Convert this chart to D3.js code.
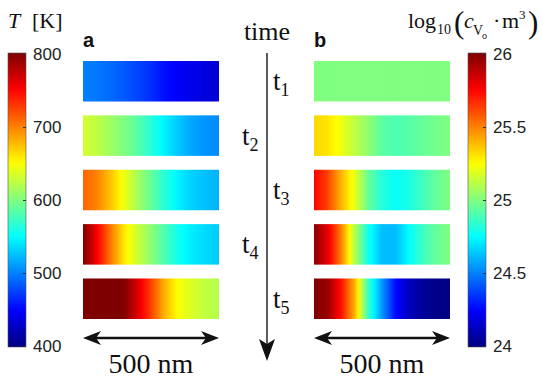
<!DOCTYPE html>
<meta charset="utf-8">
<style>
body { margin: 0; background: #fff; }
.serif { font-family: "Liberation Serif", "Times New Roman", serif; fill: #111; }
.sans { font-family: "Liberation Sans", Arial, sans-serif; fill: #111; }
.cbar .tick text { font: 17px "Liberation Sans", Arial, sans-serif; fill: #222; }
.cbar .tick line { stroke: #333; }
.cbar .domain { display: none; }
</style>
<svg id="fig"></svg>
<script src="https://d3js.org/d3.v7.min.js"></script>
<script>

// snapshots t1..t5, values sampled every tenth of the 500 nm width
var times = ["1", "2", "3", "4", "5"];
var xs = [0, .1, .2, .3, .4, .5, .6, .7, .8, .9, 1];

// temperature [K]
var tempT1 = [500, 497, 492, 485, 477, 468, 455, 448, 442, 437, 433];
var tempT2 = [632, 625, 612, 600, 585, 565, 545, 528, 515, 508, 505];
var tempT3 = [710, 700, 675, 645, 615, 590, 565, 545, 532, 525, 520];
var tempT4 = [800, 755, 705, 660, 630, 605, 580, 555, 543, 535, 530];
var tempT5 = [800, 800, 800, 800, 765, 725, 680, 648, 635, 625, 620];

// log10 vacancy concentration
var concT1 = [25, 25, 25, 25, 25, 25, 25, 25, 25, 25, 25];
var concT2 = [25.33, 25.3, 25.22, 25.12, 25.03, 24.93, 24.9, 24.92, 24.95, 24.98, 25.0];
var concT3 = [25.75, 25.62, 25.4, 25.2, 24.95, 24.82, 24.76, 24.8, 24.88, 24.95, 25.0];
var concT4 = [25.98, 25.8, 25.5, 25.1, 24.78, 24.62, 24.62, 24.75, 24.87, 24.95, 25.0];
var concT5 = [26, 25.95, 25.72, 25.4, 24.85, 24.55, 24.27, 24.12, 24.05, 24.02, 24.0];

var tempTicks = [400, 500, 600, 700, 800];
var concTicks = [24, 24.5, 25, 25.5, 26];

var tempRows = [tempT1, tempT2, tempT3, tempT4, tempT5];
var concRows = [concT1, concT2, concT3, concT4, concT5];

var width = 542, height = 380;

var svg = d3.select("#fig")
    .attr("width", width)
    .attr("height", height);

var defs = svg.append("defs");

// matlab jet
var jet = d3.scaleLinear()
    .domain([0, .125, .375, .625, .875, 1])
    .range(["#00007f", "#0000ff", "#00ffff", "#ffff00", "#ff0000", "#7f0000"])
    .clamp(true);

var tempColor = function(v) { return jet((v - 400) / 400); };
var concColor = function(v) { return jet((v - 24) / 2); };

var y = d3.scaleBand().domain(times).range([61, 319]).paddingInner(0.255);

function drawPanel(id, x0, x1, rows, color) {
  var x = d3.scaleLinear().domain([0, 1]).range([x0, x1]);
  var g = svg.append("g");
  rows.forEach(function(vals, i) {
    var prof = d3.scaleLinear().domain(xs).range(vals);
    var grad = defs.append("linearGradient")
        .attr("id", id + i)
        .attr("gradientUnits", "userSpaceOnUse")
        .attr("x1", x(0)).attr("x2", x(1))
        .attr("y1", 0).attr("y2", 0);
    grad.selectAll("stop")
        .data(d3.range(0, 1.0001, 0.02))
      .enter().append("stop")
        .attr("offset", function(d) { return d; })
        .attr("stop-color", function(d) { return color(prof(d)); });
    g.append("rect")
        .attr("x", x(0))
        .attr("y", y(times[i]))
        .attr("width", x(1) - x(0))
        .attr("height", y.bandwidth())
        .attr("fill", "url(#" + id + i + ")");
  });
  return x;
}

var xa = drawPanel("ga", 83, 219, tempRows, tempColor);
var xb = drawPanel("gb", 314, 450, concRows, concColor);

// colorbars
function colorbar(id, x0, domain, ticks, color, fmt) {
  var yc = d3.scaleLinear().domain(domain).range([346, 54]);
  var grad = defs.append("linearGradient")
      .attr("id", id)
      .attr("x1", 0).attr("x2", 0).attr("y1", 1).attr("y2", 0);
  grad.selectAll("stop")
      .data(d3.range(0, 1.0001, 0.02))
    .enter().append("stop")
      .attr("offset", function(d) { return d; })
      .attr("stop-color", function(d) { return jet(d); });
  svg.append("rect")
      .attr("x", x0).attr("y", yc(domain[1]) - 1)
      .attr("width", 18).attr("height", yc(domain[0]) - yc(domain[1]) + 2)
      .attr("fill", "url(#" + id + ")")
      .attr("stroke", "#555").attr("stroke-width", 0.6);
  svg.append("g")
      .attr("class", "cbar")
      .attr("transform", "translate(" + (x0 + 18) + ",0)")
      .call(d3.axisRight(yc).tickValues(ticks).tickSize(-3).tickPadding(7).tickFormat(fmt));
}

colorbar("cbT", 8, [400, 800], tempTicks, tempColor, d3.format("d"));
colorbar("cbC", 468, [24, 26], concTicks, concColor, function(d) { return String(d); });

// titles
var tT = svg.append("text").attr("class", "serif").attr("y", 28).style("font-size", "22px");
tT.append("tspan").attr("x", 8).style("font-style", "italic").text("T");
tT.append("tspan").attr("x", 32).text("[K]");

svg.append("text").attr("class", "serif").attr("x", 408).attr("y", 28).style("font-size", "22px").text("log");
svg.append("text").attr("class", "serif").attr("x", 437).attr("y", 34).style("font-size", "14px").text("10");
svg.append("text").attr("class", "serif").attr("x", 454).attr("y", 33).style("font-size", "31px").text("(");
svg.append("text").attr("class", "serif").attr("x", 464).attr("y", 28).style("font-size", "22px").style("font-style", "italic").text("c");
svg.append("text").attr("class", "serif").attr("x", 473).attr("y", 35).style("font-size", "14px").text("V");
svg.append("text").attr("class", "serif").attr("x", 482).attr("y", 39).style("font-size", "10px").text("o");
svg.append("text").attr("class", "serif").attr("x", 493).attr("y", 28).style("font-size", "22px").text("·");
svg.append("text").attr("class", "serif").attr("x", 502).attr("y", 28).style("font-size", "22px").text("m");
svg.append("text").attr("class", "serif").attr("x", 519).attr("y", 19).style("font-size", "13px").text("3");
svg.append("text").attr("class", "serif").attr("x", 528).attr("y", 33).style("font-size", "31px").text(")");

// panel letters
svg.append("text").attr("class", "sans").attr("x", xa(0)).attr("y", 47)
    .style("font-size", "20px").style("font-weight", "bold").text("a");
svg.append("text").attr("class", "sans").attr("x", xb(0)).attr("y", 47)
    .style("font-size", "20px").style("font-weight", "bold").text("b");

// time arrow
var ax = 267;
svg.append("text").attr("class", "serif").attr("x", ax).attr("y", 40)
    .attr("text-anchor", "middle").style("font-size", "26px").text("time");
svg.append("line")
    .attr("x1", ax).attr("x2", ax).attr("y1", 53).attr("y2", 346)
    .attr("stroke", "#333").attr("stroke-width", 1.6);
svg.append("path")
    .attr("d", "M" + ax + ",361L" + (ax - 8) + ",339L" + ax + ",344L" + (ax + 8) + ",339Z")
    .attr("fill", "#111");

times.forEach(function(t, i) {
  var lx = i % 2 === 0 ? 273 : 242;
  var tx = svg.append("text").attr("class", "serif")
      .attr("x", lx).attr("y", y(t) + y.bandwidth() / 2 + 9)
      .style("font-size", "27px");
  tx.append("tspan").text("t");
  tx.append("tspan").attr("dy", 6).style("font-size", "18px").text(t);
});

// 500 nm scale bars
function scaleBar(x) {
  var x0 = x(0), x1 = x(1), yb = 338;
  svg.append("line")
      .attr("x1", x0 + 10).attr("x2", x1 - 10).attr("y1", yb).attr("y2", yb)
      .attr("stroke", "#111").attr("stroke-width", 2.6);
  svg.append("path")
      .attr("d", "M" + x0 + "," + yb + "L" + (x0 + 18) + "," + (yb - 7) + "L" + (x0 + 13) + "," + yb +
                 "L" + (x0 + 18) + "," + (yb + 7) + "Z")
      .attr("fill", "#111");
  svg.append("path")
      .attr("d", "M" + x1 + "," + yb + "L" + (x1 - 18) + "," + (yb - 7) + "L" + (x1 - 13) + "," + yb +
                 "L" + (x1 - 18) + "," + (yb + 7) + "Z")
      .attr("fill", "#111");
  svg.append("text").attr("class", "serif")
      .attr("x", (x0 + x1) / 2).attr("y", 373)
      .attr("text-anchor", "middle").style("font-size", "28px").text("500 nm");
}
scaleBar(xa);
scaleBar(xb);

</script>
